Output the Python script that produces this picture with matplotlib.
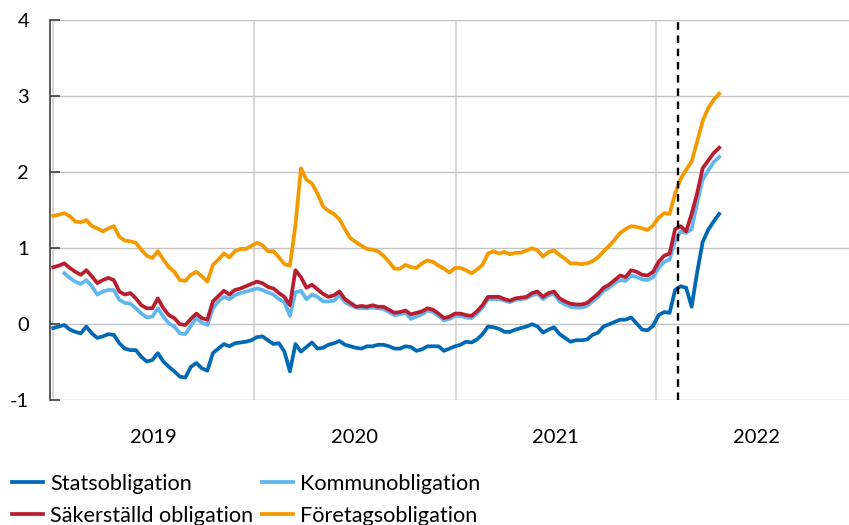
import matplotlib
matplotlib.use("Agg")
import matplotlib.pyplot as plt
import matplotlib.dates as mdates
import numpy as np
import pandas as pd

dates = pd.date_range("2019-01-01", periods=122, freq="10D")

stats = [-0.05, -0.03, -0.01, -0.07, -0.10, -0.12, -0.03, -0.12, -0.18, -0.16,
         -0.13, -0.14, -0.25, -0.32, -0.34, -0.34, -0.43, -0.49, -0.47, -0.38,
         -0.49, -0.56, -0.62, -0.69, -0.70, -0.56, -0.51, -0.58, -0.61, -0.38,
         -0.32, -0.26, -0.29, -0.25, -0.24, -0.23, -0.21, -0.17, -0.16, -0.21,
         -0.26, -0.25, -0.36, -0.62, -0.26, -0.36, -0.30, -0.24, -0.32, -0.31,
         -0.27, -0.25, -0.22, -0.27, -0.29, -0.31, -0.32, -0.29, -0.29, -0.27,
         -0.27, -0.29, -0.32, -0.32, -0.29, -0.30, -0.35, -0.33, -0.29, -0.29,
         -0.29, -0.35, -0.32, -0.29, -0.27, -0.23, -0.24, -0.20, -0.13, -0.03,
         -0.04, -0.06, -0.10, -0.10, -0.07, -0.05, -0.03, 0.00, -0.03, -0.11,
         -0.07, -0.04, -0.13, -0.18, -0.23, -0.21, -0.21, -0.20, -0.14, -0.11,
         -0.03, 0.00, 0.03, 0.06, 0.06, 0.09, 0.01, -0.07, -0.08, -0.02,
         0.12, 0.16, 0.15, 0.45, 0.50, 0.48, 0.23, 0.68, 1.08, 1.24,
         1.35, 1.45]

kommun = [np.nan, np.nan, 0.67, 0.61, 0.56, 0.53, 0.58, 0.50, 0.39, 0.43,
          0.45, 0.45, 0.32, 0.28, 0.27, 0.21, 0.14, 0.09, 0.10, 0.21,
          0.10, 0.01, -0.03, -0.12, -0.13, -0.02, 0.08, 0.02, -0.01, 0.21,
          0.30, 0.36, 0.33, 0.38, 0.41, 0.43, 0.45, 0.47, 0.45, 0.42,
          0.39, 0.33, 0.29, 0.11, 0.42, 0.44, 0.33, 0.39, 0.36, 0.30,
          0.30, 0.31, 0.38, 0.29, 0.25, 0.22, 0.21, 0.21, 0.22, 0.21,
          0.20, 0.16, 0.12, 0.13, 0.15, 0.07, 0.10, 0.13, 0.18, 0.16,
          0.11, 0.05, 0.07, 0.11, 0.11, 0.09, 0.08, 0.14, 0.22, 0.33,
          0.33, 0.33, 0.31, 0.29, 0.32, 0.33, 0.34, 0.38, 0.40, 0.33,
          0.38, 0.40, 0.30, 0.26, 0.23, 0.22, 0.22, 0.24, 0.30, 0.36,
          0.44, 0.48, 0.54, 0.58, 0.57, 0.64, 0.62, 0.59, 0.58, 0.62,
          0.74, 0.82, 0.85, 1.10, 1.22, 1.20, 1.25, 1.60, 1.90, 2.02,
          2.13, 2.20]

sakerstalld = [0.75, 0.77, 0.80, 0.74, 0.69, 0.65, 0.71, 0.63, 0.54, 0.58,
               0.61, 0.58, 0.43, 0.39, 0.41, 0.34, 0.25, 0.21, 0.21, 0.34,
               0.21, 0.12, 0.08, 0.00, -0.01, 0.07, 0.14, 0.08, 0.06, 0.30,
               0.37, 0.44, 0.39, 0.45, 0.47, 0.50, 0.53, 0.56, 0.54, 0.49,
               0.47, 0.41, 0.36, 0.25, 0.71, 0.62, 0.48, 0.52, 0.46, 0.40,
               0.36, 0.38, 0.43, 0.33, 0.28, 0.23, 0.24, 0.23, 0.25, 0.23,
               0.23, 0.19, 0.15, 0.16, 0.18, 0.13, 0.15, 0.17, 0.21, 0.19,
               0.14, 0.08, 0.10, 0.14, 0.14, 0.12, 0.11, 0.17, 0.25, 0.36,
               0.36, 0.36, 0.33, 0.31, 0.34, 0.35, 0.36, 0.41, 0.43, 0.36,
               0.41, 0.43, 0.34, 0.30, 0.27, 0.26, 0.26, 0.28, 0.34, 0.40,
               0.48, 0.52, 0.58, 0.64, 0.62, 0.71, 0.69, 0.65, 0.64, 0.69,
               0.82, 0.90, 0.93, 1.25, 1.29, 1.22, 1.45, 1.72, 2.05, 2.15,
               2.25, 2.32]

foretag = [1.425, 1.44, 1.46, 1.42, 1.35, 1.34, 1.37, 1.29, 1.26, 1.22,
           1.26, 1.29, 1.15, 1.10, 1.09, 1.07, 0.98, 0.90, 0.87, 0.96,
           0.85, 0.75, 0.69, 0.58, 0.57, 0.65, 0.69, 0.63, 0.56, 0.78,
           0.85, 0.93, 0.88, 0.96, 0.99, 0.99, 1.03, 1.07, 1.04, 0.96,
           0.96, 0.88, 0.79, 0.77, 1.30, 2.05, 1.90, 1.85, 1.72, 1.55,
           1.49, 1.45, 1.38, 1.25, 1.13, 1.08, 1.03, 0.99, 0.98, 0.96,
           0.90, 0.82, 0.73, 0.73, 0.78, 0.75, 0.74, 0.80, 0.84, 0.82,
           0.77, 0.73, 0.68, 0.74, 0.74, 0.71, 0.67, 0.72, 0.78, 0.93,
           0.96, 0.93, 0.95, 0.92, 0.94, 0.94, 0.97, 1.00, 0.97, 0.89,
           0.95, 0.97, 0.91, 0.86, 0.80, 0.80, 0.79, 0.80, 0.83, 0.88,
           0.96, 1.03, 1.11, 1.20, 1.25, 1.29, 1.28, 1.26, 1.24, 1.30,
           1.40, 1.46, 1.45, 1.72, 1.91, 2.03, 2.14, 2.40, 2.67, 2.84,
           2.95, 3.03]

series_labels = ["Statsobligation", "Kommunobligation",
                 "Säkerställd obligation", "Företagsobligation"]
colors = ["#0069B4", "#62B6EE", "#B81E30", "#F39A00"]
event_date = pd.Timestamp("2022-02-10")
yticks = [-1, 0, 1, 2, 3, 4]

plt.rcParams["font.family"] = ["Lato", "DejaVu Sans"]

fig = plt.figure(figsize=(8.49, 5.25), dpi=100)
ax = fig.add_axes([50/849, 1-400.3/525, 799/849, (400.3-20)/525])

handles = {}
for vals, lab, col in zip([stats, kommun, sakerstalld, foretag], series_labels, colors):
    h, = ax.plot(dates, vals, color=col, lw=2.7, zorder=3)
    handles[lab] = h

ax.axvline(event_date, color="black", lw=1.7, ls=(0, (3.2, 2.4)), zorder=4)

ax.set_ylim(-1, 4)
ax.set_yticks(yticks)
ax.set_yticklabels([str(t) for t in yticks])
ax.set_xlim(pd.Timestamp("2018-12-26"), pd.Timestamp("2022-12-17"))

ax.xaxis.set_major_locator(mdates.YearLocator())
ax.xaxis.set_major_formatter(plt.NullFormatter())
ax.xaxis.set_minor_locator(mdates.MonthLocator(bymonth=7, bymonthday=2))
ax.xaxis.set_minor_formatter(mdates.DateFormatter("%Y"))
ax.tick_params(axis="x", which="both", length=0, labelsize=14.5, pad=21, colors="black")
ax.tick_params(axis="y", direction="in", length=7, width=1.2, color="#404040",
               labelsize=14.5, pad=15)

ax.grid(axis="y", color="#c4c4c4", lw=1.0, zorder=0)
ax.grid(axis="x", which="major", color="#d9d9d9", lw=1.5, zorder=0)

for s in ["top", "right", "bottom"]:
    ax.spines[s].set_visible(False)
ax.spines["left"].set_color("#404040")
ax.spines["left"].set_linewidth(1.2)

order = ["Statsobligation", "Säkerställd obligation", "Kommunobligation", "Företagsobligation"]
fig.legend([handles[k] for k in order], order, ncol=2, loc="upper left",
           bbox_to_anchor=(0.009, 0.106), frameon=False, fontsize=15.6,
           handlelength=1.45, handletextpad=0.3, columnspacing=0.4,
           labelspacing=0.55, borderaxespad=0, borderpad=0.2)

fig.savefig("out.png", dpi=100)
